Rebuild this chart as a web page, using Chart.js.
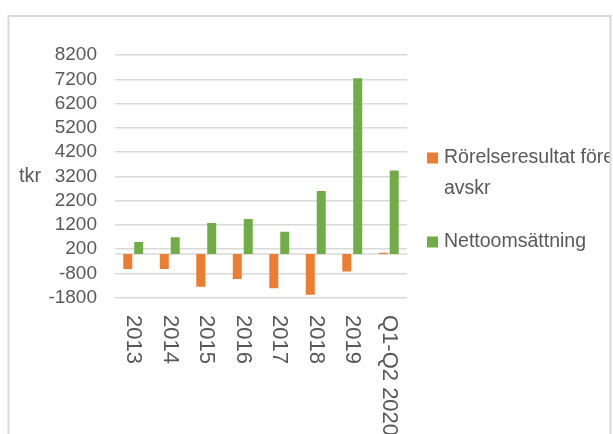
<!DOCTYPE html>
<html>
<head>
<meta charset="utf-8">
<script src="https://cdn.jsdelivr.net/npm/chart.js@4/dist/chart.umd.min.js"></script>
<style>
  html, body { margin: 0; padding: 0; background: #ffffff; }
  #wrap { width: 613px; height: 434px; position: relative; }
</style>
</head>
<body>
<div id="wrap"><canvas id="c" width="613" height="434"></canvas></div>
<script>
const categories = ['2013', '2014', '2015', '2016', '2017', '2018', '2019', 'Q1-Q2 2020'];
const rorelseresultat = [-620, -620, -1345, -1030, -1415, -1675, -716, 50];
const nettoomsattning = [500, 690, 1280, 1440, 920, 2600, 7240, 3440];
const seriesNames = ['Rörelseresultat före avskr', 'Nettoomsättning'];
const legendLines = [['Rörelseresultat före', 'avskr'], ['Nettoomsättning']];
const yMin = -1800, yMax = 8200, yStep = 1000;
const yTitle = 'tkr';

const textColor = '#595959';
const gridColor = '#d9d9d9';
const FONT = '"Liberation Sans", Arial, sans-serif';

const decor = {
  id: 'decor',
  beforeDatasetsDraw(chart) {
    const ctx = chart.ctx, y = chart.scales.y, a = chart.chartArea;
    const z = y.getPixelForValue(0);
    ctx.save();
    ctx.strokeStyle = gridColor;
    ctx.lineWidth = 1.4;
    ctx.beginPath();
    ctx.moveTo(a.left, z);
    ctx.lineTo(a.right, z);
    ctx.stroke();
    ctx.restore();
  },
  afterDraw(chart) {
    const ctx = chart.ctx, x = chart.scales.x;
    ctx.save();
    // outer border
    ctx.strokeStyle = gridColor;
    ctx.lineWidth = 2;
    ctx.strokeRect(8.5, 16, 602, 520);
    ctx.beginPath();
    ctx.rect(9.5, 17, 600, 520);
    ctx.clip();
    // x labels, rotated clockwise
    ctx.fillStyle = textColor;
    ctx.font = '22px ' + FONT;
    ctx.textAlign = 'left';
    ctx.textBaseline = 'middle';
    chart.data.labels.forEach((lab, i) => {
      const px = x.getPixelForValue(i);
      ctx.save();
      ctx.translate(px, 315);
      ctx.rotate(Math.PI / 2);
      ctx.fillText(lab, 0, 0);
      ctx.restore();
    });
    // y title
    ctx.font = '20px ' + FONT;
    ctx.textAlign = 'left';
    ctx.textBaseline = 'middle';
    ctx.fillText(yTitle, 19, 176);
    // legend
    const legendY = [158, 242];
    chart.data.datasets.forEach((ds, i) => {
      const cy = legendY[i];
      ctx.fillStyle = ds.backgroundColor;
      ctx.fillRect(427, cy - 5.5, 11, 11);
      ctx.fillStyle = textColor;
      ctx.font = '19.5px ' + FONT;
      legendLines[i].forEach((ln, k) => {
        ctx.fillText(ln, 444, cy + k * 31);
      });
    });
    ctx.restore();
  }
};

new Chart(document.getElementById('c'), {
  type: 'bar',
  data: {
    labels: categories,
    datasets: [
      { label: seriesNames[0], data: rorelseresultat, backgroundColor: '#ED7D31' },
      { label: seriesNames[1], data: nettoomsattning, backgroundColor: '#70AD47' }
    ]
  },
  options: {
    responsive: false,
    animation: false,
    devicePixelRatio: 1,
    categoryPercentage: 0.6,
    barPercentage: 0.82,
    layout: { padding: { top: 55, right: 206, left: 0, bottom: 0 } },
    plugins: { legend: { display: false }, tooltip: { enabled: false } },
    scales: {
      x: {
        grid: { display: false },
        border: { display: false },
        ticks: { display: false },
        afterFit(s) { s.height = 136.3; }
      },
      y: {
        min: yMin,
        max: yMax,
        border: { display: false },
        grid: { color: gridColor, lineWidth: 1.4, drawTicks: false },
        ticks: {
          stepSize: yStep,
          autoSkip: false,
          padding: 18,
          color: textColor,
          font: { family: FONT, size: 19 },
          callback: v => String(v)
        },
        afterFit(s) { s.width = 115; }
      }
    }
  },
  plugins: [decor]
});
</script>
</body>
</html>
